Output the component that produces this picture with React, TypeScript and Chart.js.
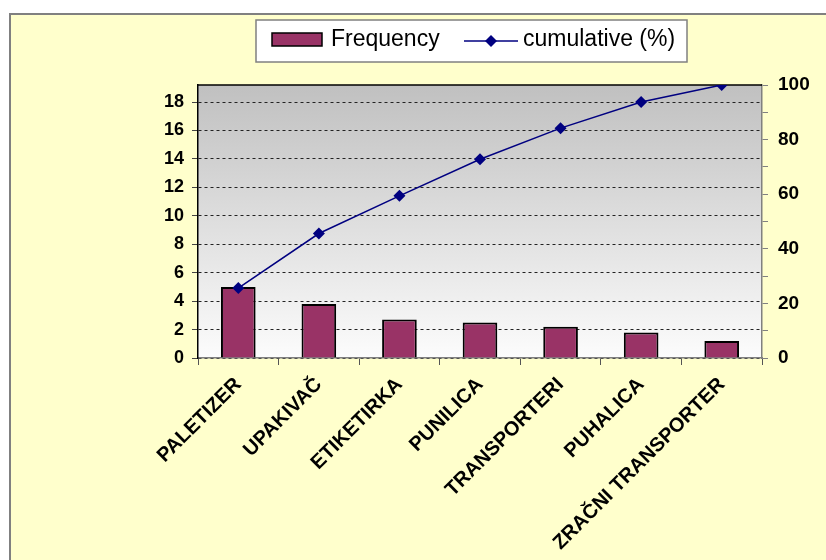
import React, { useEffect, useRef } from 'react';
import { Chart, registerables } from 'chart.js';
Chart.register(...registerables);

const categories = ['PALETIZER', 'UPAKIVAČ', 'ETIKETIRKA', 'PUNILICA', 'TRANSPORTERI', 'PUHALICA', 'ZRAČNI TRANSPORTER'];
const frequency = [5, 3.8, 2.7, 2.5, 2.2, 1.8, 1.2];
const cumulative = [25.6, 45.6, 59.4, 72.8, 84.2, 93.8, 100];
const leftMax = 19.2;
const leftStep = 2;
const leftLastTick = 18;
const rightMax = 100;
const rightStep = 10;
const rightLabelStep = 20;
const legendLabels = ['Frequency', 'cumulative (%)'];

const BAR_COLOR = '#993366';
const LINE_COLOR = '#000080';
const FONT = '"Liberation Sans", Arial, sans-serif';

const decorPlugin = {
  id: 'decor',
  beforeDraw(chart: any) {
    const { ctx, width, height, chartArea: a } = chart;
    ctx.save();
    ctx.fillStyle = '#ffffff';
    ctx.fillRect(0, 0, width, height);
    ctx.fillStyle = '#FFFFCC';
    ctx.fillRect(10, 14, width - 10, height - 14);
    ctx.strokeStyle = '#808080';
    ctx.lineWidth = 2;
    ctx.beginPath();
    ctx.moveTo(10, height);
    ctx.lineTo(10, 14);
    ctx.lineTo(width, 14);
    ctx.stroke();
    const g = ctx.createLinearGradient(0, a.top, 0, a.bottom);
    g.addColorStop(0, '#c0c0c0');
    g.addColorStop(1, '#fcfcfc');
    ctx.fillStyle = g;
    ctx.fillRect(a.left, a.top, a.right - a.left, a.bottom - a.top);
    ctx.restore();
  },
  beforeDatasetsDraw(chart: any) {
    const { ctx, chartArea: a } = chart;
    ctx.save();
    ctx.strokeStyle = '#000000';
    ctx.lineWidth = 1.5;
    ctx.beginPath();
    ctx.moveTo(a.left, a.top);
    ctx.lineTo(a.right, a.top);
    ctx.stroke();
    ctx.restore();
  },
  afterDraw(chart: any) {
    const { ctx } = chart;
    ctx.save();
    const lx = 256, ly = 20, lw = 431, lh = 42;
    ctx.fillStyle = '#ffffff';
    ctx.fillRect(lx, ly, lw, lh);
    ctx.strokeStyle = '#808080';
    ctx.lineWidth = 1.5;
    ctx.strokeRect(lx, ly, lw, lh);
    ctx.fillStyle = BAR_COLOR;
    ctx.fillRect(272, 33, 50, 13);
    ctx.strokeStyle = '#000000';
    ctx.lineWidth = 1.5;
    ctx.strokeRect(272, 33, 50, 13);
    ctx.fillStyle = '#000000';
    ctx.font = `23px ${FONT}`;
    ctx.textBaseline = 'alphabetic';
    ctx.textAlign = 'left';
    ctx.fillText(legendLabels[0], 331, 46);
    ctx.strokeStyle = LINE_COLOR;
    ctx.lineWidth = 1.5;
    ctx.beginPath();
    ctx.moveTo(464, 41);
    ctx.lineTo(518, 41);
    ctx.stroke();
    ctx.fillStyle = LINE_COLOR;
    ctx.beginPath();
    ctx.moveTo(491, 35);
    ctx.lineTo(497, 41);
    ctx.lineTo(491, 47);
    ctx.lineTo(485, 41);
    ctx.closePath();
    ctx.fill();
    ctx.fillStyle = '#000000';
    ctx.fillText(legendLabels[1], 523, 46);
    ctx.restore();
  },
};

export default function App() {
  const ref = useRef<HTMLCanvasElement | null>(null);
  useEffect(() => {
    document.body.style.margin = '0';
    const canvas = ref.current;
    if (!canvas) return;
    const chart = new Chart(canvas, {
      type: 'bar',
      data: {
        labels: categories,
        datasets: [
          {
            type: 'line',
            label: legendLabels[1],
            data: cumulative,
            yAxisID: 'y1',
            borderColor: LINE_COLOR,
            backgroundColor: LINE_COLOR,
            borderWidth: 1.5,
            pointStyle: 'rectRot',
            pointRadius: 6,
            pointBorderWidth: 0,
            tension: 0,
            order: 0,
          } as any,
          {
            type: 'bar',
            label: legendLabels[0],
            data: frequency,
            yAxisID: 'y',
            backgroundColor: BAR_COLOR,
            borderColor: '#000000',
            borderWidth: 2,
            barPercentage: 0.43,
            categoryPercentage: 1,
            order: 1,
          } as any,
        ],
      },
      options: {
        responsive: false,
        animation: false,
        layout: { padding: { top: 85, left: 0, right: 0, bottom: 0 } },
        plugins: { legend: { display: false }, tooltip: { enabled: false } },
        scales: {
          x: {
            offset: true,
            grid: {
              display: true,
              offset: true,
              drawOnChartArea: false,
              tickLength: 7,
              tickColor: '#555555',
            },
            border: { color: '#808080', width: 1.5 },
            ticks: {
              autoSkip: false,
              maxRotation: 45,
              minRotation: 45,
              padding: 8,
              color: '#000000',
              font: { family: FONT, size: 20, weight: 'bold' },
            },
            afterFit(scale: any) { scale.height = 202; },
          },
          y: {
            position: 'left',
            min: 0,
            max: leftMax,
            ticks: {
              stepSize: leftStep,
              padding: 8,
              color: '#000000',
              font: { family: FONT, size: 18, weight: 'bold' },
            },
            afterBuildTicks(scale: any) {
              const out = [];
              for (let v = 0; v <= leftLastTick + 1e-9; v += leftStep) out.push({ value: v });
              scale.ticks = out;
            },
            grid: {
              color: '#222222',
              lineWidth: 1,
              tickLength: 6,
              tickColor: '#444444',
            },
            border: { color: '#000000', width: 1.5, dash: [3, 3] },
            afterFit(scale: any) { scale.width = 198; },
          },
          y1: {
            position: 'right',
            min: 0,
            max: rightMax,
            ticks: {
              stepSize: rightStep,
              padding: 10,
              color: '#000000',
              font: { family: FONT, size: 19, weight: 'bold' },
              callback: (v: any) => (Math.round(v) % rightLabelStep === 0 ? String(Math.round(v)) : ''),
            },
            grid: {
              drawOnChartArea: false,
              tickLength: 6,
              tickColor: '#808080',
            },
            border: { color: '#808080', width: 1.5 },
            afterFit(scale: any) { scale.width = 64; },
          },
        },
      },
      plugins: [decorPlugin],
    });
    return () => chart.destroy();
  }, []);
  return <canvas ref={ref} width={826} height={560} style={{ display: 'block' }} />;
}
